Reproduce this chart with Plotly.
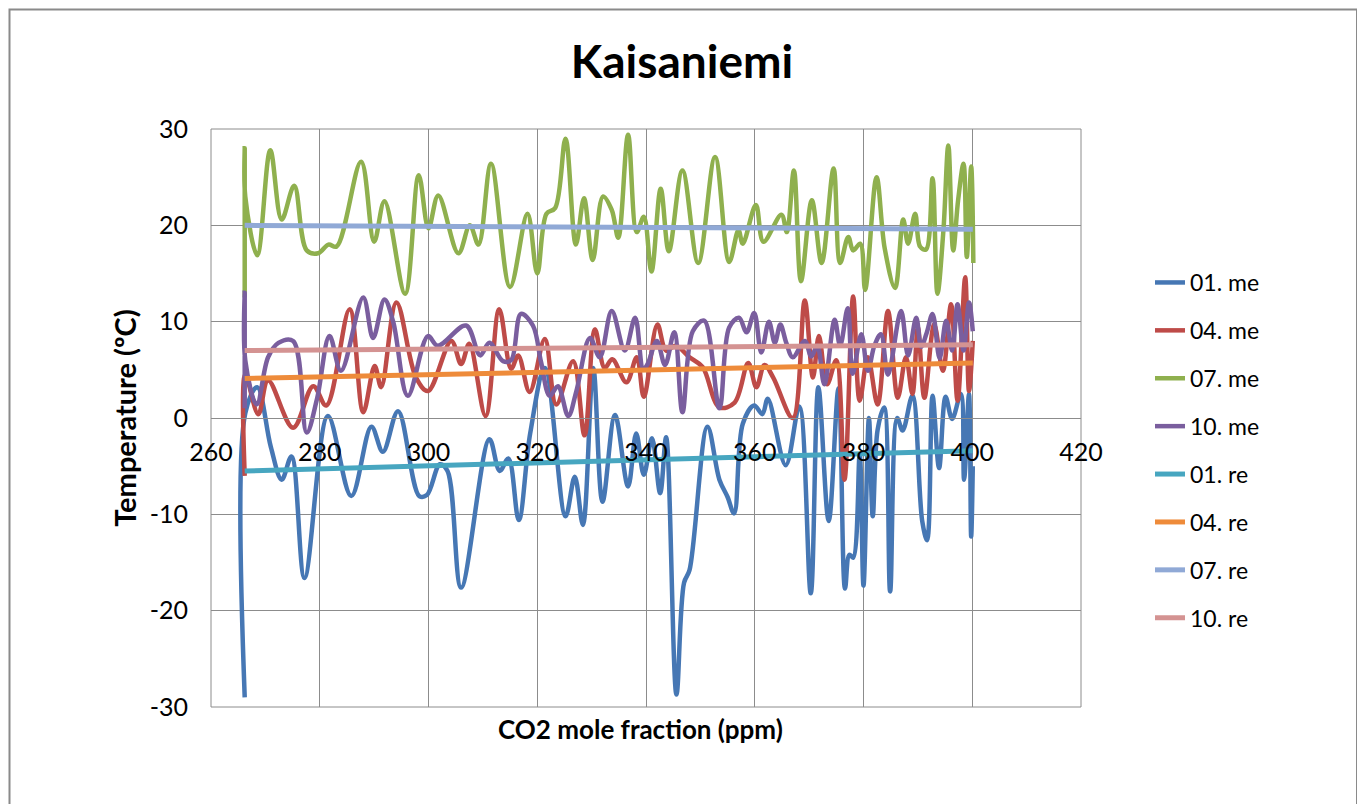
import plotly.graph_objects as go

# ---- data ----
co2_01 = [266.2, 266.3, 268.5, 271.0, 273.0, 274.8, 277.2, 281.5, 285.8, 289.5, 291.6, 294.4, 298.3,
          299.7, 302.1, 303.5, 306.0, 311.2, 313.1, 314.7, 316.6, 318.7, 321.4, 325.2, 326.9, 328.4,
          330.3, 332.0, 334.3, 336.7, 338.2, 339.6, 341.1, 342.6, 343.7, 345.6, 347.0, 348.0, 351.3,
          353.5, 355.0, 356.2, 357.8, 359.9, 361.4, 362.4, 365.7, 368.2, 370.3, 371.7, 373.6, 375.4,
          376.6, 377.4, 378.1, 379.3, 380.0, 381.0, 381.7, 382.6, 383.8, 384.9, 386.2, 387.2, 389.0,
          390.8, 391.7, 392.7, 393.9, 395.1, 396.3, 397.9, 398.5, 399.4, 399.8, 400.1]
t_01 = [-29.0, 0.5, 3.2, -3.0, -6.4, -4.0, -16.6, 0.2, -8.1, -0.9, -3.5, 0.7, -8.1,
        -8.0, -4.8, -5.5, -17.6, -2.2, -5.5, -4.2, -10.6, -1.6, 5.2, -10.2, -6.1, -11.1,
        5.2, -8.7, 0.3, -7.1, -1.6, -5.9, -2.1, -7.8, -2.0, -28.7, -17.1, -15.8, -0.9,
        -6.4, -8.2, -9.9, -0.6, 1.3, 0.4, 2.0, -4.9, 1.2, -18.2, 3.2, -10.7, 3.1,
        -17.7, -14.2, -14.5, -3.8, -17.4, 0.0, -10.2, -1.2, 1.1, -18.0, 0.0, -1.3, 2.3,
        -10.7, -12.7, 2.3, -5.2, 2.2, -0.1, 2.5, -6.4, 2.5, -12.3, -5.0]

co2_04 = [266.2, 266.3, 268.7, 270.5, 275.1, 278.8, 281.2, 285.5, 288.0, 290.1, 291.3, 294.1, 297.7,
          299.9, 304.2, 306.0, 307.5, 310.5, 313.0, 315.2, 316.5, 318.6, 321.4, 323.5, 326.6, 328.7,
          330.6, 332.4, 333.8, 336.4, 338.3, 339.6, 342.1, 343.7, 345.5, 348.0, 350.4, 353.5, 356.3,
          358.8, 360.3, 361.8, 363.4, 367.0, 369.2, 370.7, 371.8, 373.3, 375.0, 376.5, 378.1, 379.3,
          380.8, 382.6, 384.5, 386.3, 387.8, 389.0, 390.0, 391.2, 393.0, 394.6, 396.1, 397.3, 398.7,
          399.4, 400.1]
t_04 = [-6.0, 4.5, 0.4, 3.9, -1.0, 3.3, 1.3, 11.3, 0.6, 5.4, 3.2, 12.0, 4.2,
        2.8, 8.0, 5.6, 7.7, 0.2, 11.3, 5.1, 6.5, 2.7, 8.2, 1.4, 5.9, -1.8,
        9.2, 5.2, 6.1, 3.7, 6.3, 2.2, 9.7, 7.0, 7.5, 6.3, 5.3, 1.1, 1.6,
        5.7, 3.2, 5.5, 4.2, 0.0, 12.2, 4.2, 8.5, 3.5, 6.0, -6.4, 12.6, 1.8,
        6.3, 1.4, 11.1, 2.1, 6.3, 2.5, 9.4, 2.1, 9.7, 4.9, 11.8, 1.8, 14.6,
        2.8, 8.0]

co2_07 = [266.2, 266.2, 266.3, 268.5, 270.9, 273.0, 275.3, 277.6, 279.7, 281.6, 283.1, 287.6, 290.0,
          291.9, 295.7, 298.2, 300.0, 301.8, 305.5, 307.6, 309.2, 311.5, 315.0, 318.2, 320.0, 321.7,
          323.3, 325.2, 327.1, 328.6, 330.2, 332.1, 333.7, 334.9, 336.7, 338.3, 339.6, 341.0, 342.7,
          344.2, 346.7, 349.6, 352.7, 355.3, 357.0, 357.8, 360.2, 361.6, 364.9, 365.9, 367.2, 368.5,
          370.5, 372.3, 374.5, 375.7, 377.2, 378.1, 379.4, 380.3, 382.4, 383.9, 385.8, 387.3, 388.2,
          389.5, 390.4, 391.5, 392.7, 393.6, 394.7, 395.6, 396.5, 397.4, 398.4, 399.0, 399.8, 400.2]
t_07 = [12.5, 28.0, 23.0, 16.9, 27.8, 20.6, 24.1, 17.4, 17.1, 18.0, 17.8, 26.6, 18.3,
        22.5, 12.9, 25.2, 19.7, 23.1, 17.1, 20.0, 18.0, 26.4, 13.6, 21.2, 15.0, 21.2,
        21.8, 29.0, 18.0, 22.8, 16.4, 23.0, 21.6, 18.7, 29.4, 19.3, 20.9, 15.2, 23.8,
        17.3, 25.7, 16.1, 27.1, 16.2, 19.5, 18.1, 22.1, 18.3, 21.1, 19.3, 25.7, 14.2,
        22.6, 16.1, 25.9, 16.1, 18.8, 17.4, 18.1, 13.3, 25.0, 17.6, 13.5, 20.6, 18.1,
        21.2, 17.8, 17.5, 24.9, 12.9, 19.5, 28.3, 17.4, 22.6, 26.4, 16.7, 26.1, 16.1]

co2_10 = [266.2, 266.2, 266.3, 268.4, 270.5, 272.4, 275.1, 277.6, 279.5, 281.8, 283.9, 288.0, 289.8,
          291.9, 293.5, 296.2, 299.9, 301.7, 306.9, 309.5, 311.2, 313.7, 315.2, 317.0, 319.2, 320.7,
          322.3, 323.8, 325.7, 327.2, 329.7, 331.5, 333.7, 336.1, 338.0, 339.5, 340.3, 342.0, 343.5,
          345.2, 346.7, 348.6, 350.7, 353.5, 355.3, 357.1, 358.5, 359.9, 361.2, 362.6, 363.7, 364.7,
          365.8, 367.0, 369.2, 370.4, 371.5, 372.8, 374.7, 375.7, 377.1, 378.0, 379.6, 380.8, 382.0,
          383.2, 384.5, 386.9, 388.2, 389.7, 390.6, 391.6, 392.7, 394.0, 395.2, 396.3, 397.3, 398.4,
          399.4, 400.1]
t_10 = [1.0, 13.0, 6.0, 1.4, 6.3, 7.8, 8.0, -1.5, 2.0, 8.5, 4.9, 12.5, 8.3,
        12.3, 10.0, 2.3, 8.5, 7.5, 9.6, 6.5, 7.8, 5.9, 6.0, 10.8, 9.6, 5.8,
        2.3, 3.3, 0.2, 2.8, 8.3, 6.3, 11.1, 7.0, 10.4, 5.1, 5.6, 8.0, 5.5,
        8.9, 0.6, 9.0, 10.1, 1.0, 9.4, 10.4, 8.9, 10.9, 6.8, 10.0, 7.8, 9.7,
        7.8, 6.3, 8.0, 6.4, 7.5, 3.5, 10.2, 7.5, 11.4, 4.6, 8.7, 4.9, 7.5,
        8.7, 4.5, 11.1, 6.5, 10.4, 7.4, 8.8, 10.8, 6.2, 10.1, 7.0, 11.8, 7.0,
        12.0, 9.0]

# regression ("re") lines: values at first and last CO2
co2_re = [266.2, 400.1]
re_01 = [-5.5, -3.4]
re_04 = [4.1, 5.7]
re_07 = [20.0, 19.6]
re_10 = [7.0, 7.6]

x_ticks = [260, 280, 300, 320, 340, 360, 380, 400, 420]
y_ticks = [-30, -20, -10, 0, 10, 20, 30]

series = [
    ("01. me", co2_01, t_01, "#4677B4", "spline", 4.5),
    ("04. me", co2_04, t_04, "#BE4B48", "spline", 4.5),
    ("07. me", co2_07, t_07, "#8FB04E", "spline", 4.5),
    ("10. me", co2_10, t_10, "#7A5E9E", "spline", 4.5),
    ("01. re", co2_re, re_01, "#47A6C0", "linear", 5),
    ("04. re", co2_re, re_04, "#EE8B3A", "linear", 5),
    ("07. re", co2_re, re_07, "#90A9D6", "linear", 5),
    ("10. re", co2_re, re_10, "#D49392", "linear", 5),
]

FONT = "Lato"
fig = go.Figure()
for name, xs, ys, col, shape, w in series:
    fig.add_trace(go.Scatter(
        x=xs, y=ys, name=name, mode="lines", legendgroup=name,
        line=dict(color=col, width=w, shape=shape, smoothing=1.0),
    ))

GRID = "#8C8C8C"
OFF = 8  # page body margin
# target positions in the screenshot
L, R, T, B = 211, 1081, 129, 707
W, H = 1365 - OFF, 804 - OFF
pw, ph = R - L, B - T


def px(xs):
    return (xs - L) / pw


def py(ys):
    return (B - ys) / ph


fig.update_layout(
    width=W, height=H,
    margin=dict(l=L - OFF, r=W - (R - OFF), t=T - OFF, b=H - (B - OFF), autoexpand=False),
    paper_bgcolor="white", plot_bgcolor="white",
    font=dict(family=FONT, color="#000000"),
    title=dict(text="<b>Kaisaniemi</b>", x=(682 - OFF) / W, xanchor="center",
               y=1 - (62 - OFF) / H, yanchor="middle", font=dict(size=46, family=FONT)),
    showlegend=True,
    legend=dict(x=px(1150), xanchor="left", y=py(261), yanchor="top",
                font=dict(size=23, family=FONT), tracegroupgap=15,
                bgcolor="rgba(0,0,0,0)", borderwidth=0),
    xaxis=dict(range=[260, 420], tickvals=x_ticks, ticktext=[str(v) for v in x_ticks],
               showgrid=True, gridcolor=GRID, gridwidth=1, zeroline=False,
               anchor="free", position=0.5, showline=True, linecolor=GRID, linewidth=1,
               ticks="", ticklabelstandoff=12, tickfont=dict(size=25, family=FONT)),
    yaxis=dict(range=[-30, 30], tickvals=y_ticks, ticktext=[str(v) for v in y_ticks],
               showgrid=True, gridcolor=GRID, gridwidth=1, zeroline=False,
               showline=False, ticks="", ticklabelstandoff=22,
               tickfont=dict(size=25, family=FONT),
               title=dict(text="<b>Temperature (ºC)</b>", standoff=4,
                          font=dict(size=29, family=FONT))),
    shapes=[
        dict(type="rect", xref="paper", yref="paper", x0=0, x1=1, y0=0, y1=1,
             line=dict(color=GRID, width=1), layer="below"),
        dict(type="rect", xref="paper", yref="paper",
             x0=px(9.5), x1=px(1357), y0=py(812), y1=py(9.5),
             line=dict(color="#8A8A8A", width=2), layer="below"),
    ],
    annotations=[
        dict(text="<b>CO2 mole fraction (ppm)</b>", xref="paper", yref="paper",
             x=px(640), y=py(729), xanchor="center", yanchor="middle",
             showarrow=False, font=dict(size=26, family=FONT)),
    ],
)

fig.write_html("out.html")
